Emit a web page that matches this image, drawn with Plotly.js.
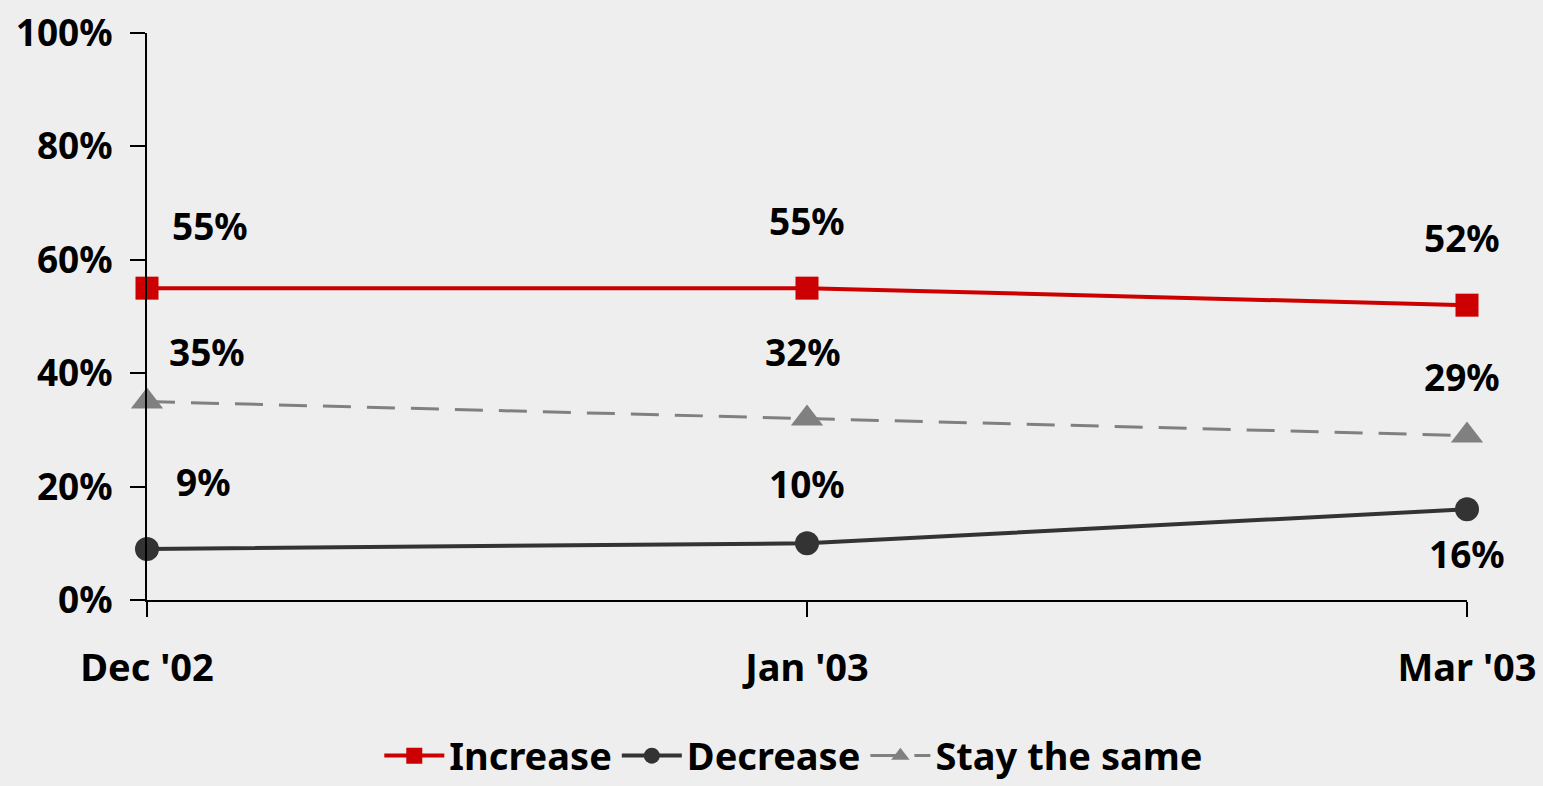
<!DOCTYPE html>
<html><head><meta charset="utf-8">
<script src="https://cdn.plot.ly/plotly-3.0.1.min.js"></script>
<style>html,body{margin:0;padding:0;background:#eeeeee;}#chart{width:1543px;height:786px;}</style>
</head><body><div id="chart"></div>
<script>
const categories = ["Dec '02", "Jan '03", "Mar '03"];
const increase = [55, 55, 52];
const decrease = [9, 10, 16];
const staySame = [35, 32, 29];
const yTickVals = [0, 20, 40, 60, 80, 100];
const yTickText = ["0%", "20%", "40%", "60%", "80%", "100%"];

const FONT = "Noto Sans, Liberation Sans, sans-serif";
const labelFont = {family: FONT, size: 37, color: '#000', weight: 'bold'};

const traces = [
  {name: 'Increase', x: categories, y: increase, mode: 'lines+markers', cliponaxis: false,
   line: {color: '#cc0000', width: 4}, marker: {symbol: 'square', size: 23, color: '#cc0000'}},
  {name: 'Decrease', x: categories, y: decrease, mode: 'lines+markers', cliponaxis: false,
   line: {color: '#333333', width: 4}, marker: {symbol: 'circle', size: 24, color: '#333333'}},
  {name: 'Stay the same', x: categories, y: staySame, mode: 'lines+markers', cliponaxis: false,
   line: {color: '#808080', width: 3, dash: '28px,16px'}, marker: {symbol: 'triangle-up', size: 28, color: '#808080'}}
];

// label offsets in pixels (layout only)
const offs = {
  inc: [[63, -63], [0, -68], [-5, -68]],
  dec: [[56, -67], [0, -60], [0, 44]],
  stay: [[60, -50], [-4, -67], [-5, -59]]
};
const annotations = [];
function addLabels(vals, o) {
  vals.forEach((v, i) => annotations.push({
    x: categories[i], y: v, text: v + '%', showarrow: false,
    xshift: o[i][0], yshift: -o[i][1], font: labelFont
  }));
}
addLabels(increase, offs.inc);
addLabels(decrease, offs.dec);
addLabels(staySame, offs.stay);

const layout = {
  width: 1543, height: 786,
  paper_bgcolor: '#eeeeee', plot_bgcolor: '#eeeeee',
  margin: {l: 147, r: 76, t: 33, b: 186, autoexpand: false},
  showlegend: true,
  legend: {orientation: 'h', x: 0.49, xanchor: 'center', y: -0.275, yanchor: 'middle',
    font: {family: FONT, size: 38, color: '#000', weight: 'bold'}, itemwidth: 60, bgcolor: 'rgba(0,0,0,0)'},
  xaxis: {type: 'category', range: [0, 2], showgrid: false, zeroline: false,
    showline: true, linecolor: '#000', linewidth: 2,
    ticks: 'outside', ticklen: 15, tickwidth: 2, tickcolor: '#000',
    tickfont: {family: FONT, size: 38, color: '#000', weight: 'bold'}, ticklabelstandoff: 18},
  yaxis: {range: [0, 100], tickmode: 'array', tickvals: yTickVals, ticktext: yTickText, showgrid: false, zeroline: false,
    showline: true, linecolor: '#000', linewidth: 2,
    ticks: 'outside', ticklen: 15, tickwidth: 2, tickcolor: '#000',
    tickfont: {family: FONT, size: 37, color: '#000', weight: 'bold'}, ticklabelstandoff: 10},
  annotations: annotations
};
Plotly.newPlot('chart', traces, layout, {displayModeBar: false, responsive: false});
</script></body></html>
